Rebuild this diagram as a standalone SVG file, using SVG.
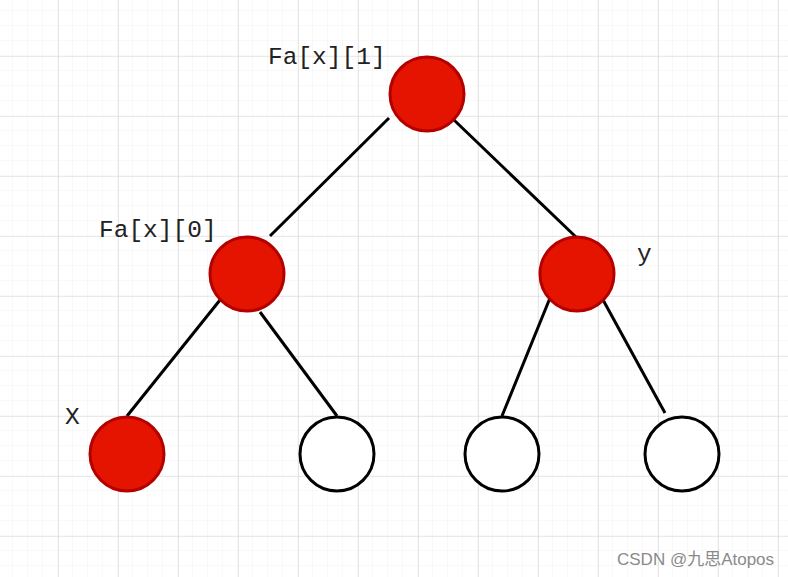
<svg xmlns="http://www.w3.org/2000/svg" width="788" height="577" viewBox="0 0 788 577">
<defs>
<pattern id="minor" x="-2" y="-4" width="15" height="15" patternUnits="userSpaceOnUse">
<path d="M15 0V15M0 15H15" fill="none" stroke="#f2f2f2" stroke-width="1"/>
</pattern>
<pattern id="major" x="-2" y="-4" width="60" height="60" patternUnits="userSpaceOnUse">
<path d="M0 0V60M0 0H60" fill="none" stroke="#d5d5d5" stroke-width="1.2"/>
</pattern>
</defs>
<style>
.red{fill:#e51400;stroke:#b30000;stroke-width:3}
.white{fill:#ffffff;stroke:#000000;stroke-width:3}
.edge{stroke:#000000;stroke-width:3;fill:none}
.lbl{font-family:"Liberation Mono","Courier New",monospace;font-size:24.5px;fill:#222222}
.wm{font-family:"Liberation Sans","Noto Sans CJK SC",sans-serif;font-size:17px;fill:#8a8a8a}
</style>
<rect width="788" height="577" fill="#ffffff"/>
<rect width="788" height="577" fill="url(#minor)"/>
<rect width="788" height="577" fill="url(#major)"/>
<g id="connectors">
<line class="edge" x1="389" y1="118" x2="270" y2="236"/>
<line class="edge" x1="454" y1="120" x2="577" y2="238"/>
<line class="edge" x1="220" y1="300" x2="127" y2="416"/>
<line class="edge" x1="260" y1="312" x2="337" y2="416"/>
<line class="edge" x1="550" y1="298" x2="502" y2="416"/>
<line class="edge" x1="602" y1="298" x2="665" y2="413"/>
</g>
<g id="n1"><circle class="red" cx="427" cy="94" r="37"/></g>
<g id="n2"><circle class="red" cx="247" cy="274" r="37"/></g>
<g id="n3"><circle class="red" cx="577" cy="274" r="37"/></g>
<g id="n4"><circle class="red" cx="127" cy="454" r="37"/></g>
<g id="n5"><circle class="white" cx="337" cy="454" r="37"/></g>
<g id="n6"><circle class="white" cx="502" cy="454" r="37"/></g>
<g id="n7"><circle class="white" cx="682" cy="454" r="37"/></g>
<g id="labels">
<text class="lbl" x="268" y="64">Fa[x][1]</text>
<text class="lbl" x="99" y="237">Fa[x][0]</text>
<text class="lbl" x="637" y="261">y</text>
<text class="lbl" x="65" y="424">X</text>
</g>
<text class="wm" x="617" y="565">CSDN @九思Atopos</text>
</svg>
